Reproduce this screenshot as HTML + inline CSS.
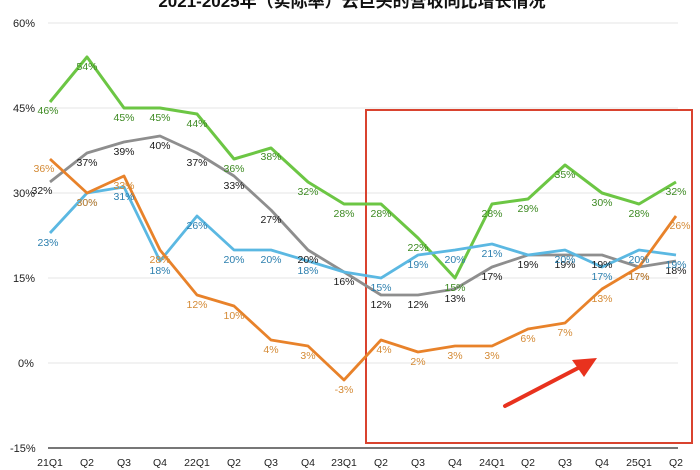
<!DOCTYPE html>
<html><head><meta charset="utf-8"><style>
html,body{margin:0;padding:0;background:#fff;}
svg{display:block;font-family:"Liberation Sans","Noto Sans CJK SC",sans-serif;}
</style></head><body>
<svg width="700" height="470" viewBox="0 0 700 470" xmlns="http://www.w3.org/2000/svg">
<text x="352" y="7" text-anchor="middle" font-size="17" font-weight="bold" fill="#111">2021-2025年（实际率）云巨头的营收同比增长情况</text>
<g stroke="#e6e6e6" stroke-width="1">
<line x1="48" y1="23" x2="678" y2="23"/><line x1="48" y1="108" x2="678" y2="108"/>
<line x1="48" y1="193" x2="678" y2="193"/><line x1="48" y1="278" x2="678" y2="278"/>
<line x1="48" y1="363" x2="678" y2="363"/>
</g>
<line x1="48" y1="448" x2="678" y2="448" stroke="#777" stroke-width="2"/>
<g font-size="11" fill="#222">
<text x="13" y="27">60%</text><text x="13" y="112">45%</text><text x="13" y="197">30%</text>
<text x="13" y="282">15%</text><text x="18" y="367">0%</text><text x="10" y="452">-15%</text>
</g>
<g font-size="10.5" fill="#222" text-anchor="middle">
<text x="50" y="466">21Q1</text><text x="87" y="466">Q2</text><text x="124" y="466">Q3</text><text x="160" y="466">Q4</text>
<text x="197" y="466">22Q1</text><text x="234" y="466">Q2</text><text x="271" y="466">Q3</text><text x="308" y="466">Q4</text>
<text x="344" y="466">23Q1</text><text x="381" y="466">Q2</text><text x="418" y="466">Q3</text><text x="455" y="466">Q4</text>
<text x="492" y="466">24Q1</text><text x="528" y="466">Q2</text><text x="565" y="466">Q3</text><text x="602" y="466">Q4</text>
<text x="639" y="466">25Q1</text><text x="676" y="466">Q2</text>
</g>
<rect x="366" y="110" width="326" height="333" fill="none" stroke="#d9432f" stroke-width="2"/>
<g fill="none" stroke-width="3" stroke-linejoin="round">
<polyline stroke="#6cc644" points="50,102 87,57 124,108 160,108 197,114 234,159 271,148 308,182 344,204 381,204 418,238 455,278 492,204 528,199 565,165 602,193 639,204 676,182"/>
<polyline stroke="#8e8e8e" stroke-width="2.8" points="50,182 87,153 124,142 160,136 197,153 234,176 271,210 308,250 344,272 381,295 418,295 455,289 492,267 528,255 565,255 602,255 639,267 676,261"/>
<polyline stroke="#5bb8e2" stroke-width="2.8" points="50,233 87,193 124,187 160,261 197,216 234,250 271,250 308,261 344,272 381,278 418,255 455,250 492,244 528,255 565,250 602,267 639,250 676,255"/>
<polyline stroke="#e8822a" stroke-width="2.8" points="50,159 87,193 124,176 160,250 197,295 234,306 271,340 308,346 344,380 381,340 418,352 455,346 492,346 528,329 565,323 602,289 639,267 676,216"/>
</g>
<g font-size="10.5" text-anchor="middle">
<g fill="#3d8a22">
<text x="48" y="114">46%</text><text x="87" y="70">54%</text><text x="124" y="121">45%</text><text x="160" y="121">45%</text><text x="197" y="127">44%</text><text x="234" y="172">36%</text><text x="271" y="160">38%</text><text x="308" y="195">32%</text><text x="344" y="217">28%</text><text x="381" y="217">28%</text><text x="418" y="251">22%</text><text x="455" y="291">15%</text><text x="492" y="217">28%</text><text x="528" y="212">29%</text><text x="565" y="178">35%</text><text x="602" y="206">30%</text><text x="639" y="217">28%</text><text x="676" y="195">32%</text>
</g>
<g fill="#1a1a1a">
<text x="42" y="194">32%</text><text x="87" y="166">37%</text><text x="124" y="155">39%</text><text x="160" y="149">40%</text><text x="197" y="166">37%</text><text x="234" y="189">33%</text><text x="271" y="223">27%</text><text x="308" y="263">20%</text><text x="344" y="285">16%</text><text x="381" y="308">12%</text><text x="418" y="308">12%</text><text x="455" y="302">13%</text><text x="492" y="280">17%</text><text x="528" y="268">19%</text><text x="565" y="268">19%</text><text x="602" y="268">19%</text><text x="639" y="280">17%</text><text x="676" y="274">18%</text>
</g>
<g fill="#2c7fae">
<text x="48" y="246">23%</text><text x="87" y="206">30%</text><text x="124" y="200">31%</text><text x="160" y="274">18%</text><text x="197" y="229">26%</text><text x="234" y="263">20%</text><text x="271" y="263">20%</text><text x="308" y="274">18%</text><text x="381" y="291">15%</text><text x="418" y="268">19%</text><text x="455" y="263">20%</text><text x="492" y="257">21%</text><text x="565" y="263">20%</text><text x="602" y="280">17%</text><text x="639" y="263">20%</text><text x="676" y="268">19%</text>
</g>
<g fill="#d48a35">
<text x="44" y="172">36%</text><text x="87" y="206">30%</text><text x="124" y="189">33%</text><text x="160" y="263">28%</text><text x="197" y="308">12%</text><text x="234" y="319">10%</text><text x="271" y="353">4%</text><text x="308" y="359">3%</text><text x="344" y="393">-3%</text><text x="384" y="353">4%</text><text x="418" y="365">2%</text><text x="455" y="359">3%</text><text x="492" y="359">3%</text><text x="528" y="342">6%</text><text x="565" y="336">7%</text><text x="602" y="302">13%</text><text x="639" y="280">17%</text><text x="680" y="229">26%</text>
</g>
</g>
<line x1="505" y1="406" x2="582" y2="366" stroke="#e8321e" stroke-width="4" stroke-linecap="round"/>
<polygon points="597,358 572,360 584,377" fill="#e8321e"/>
</svg>
</body></html>
